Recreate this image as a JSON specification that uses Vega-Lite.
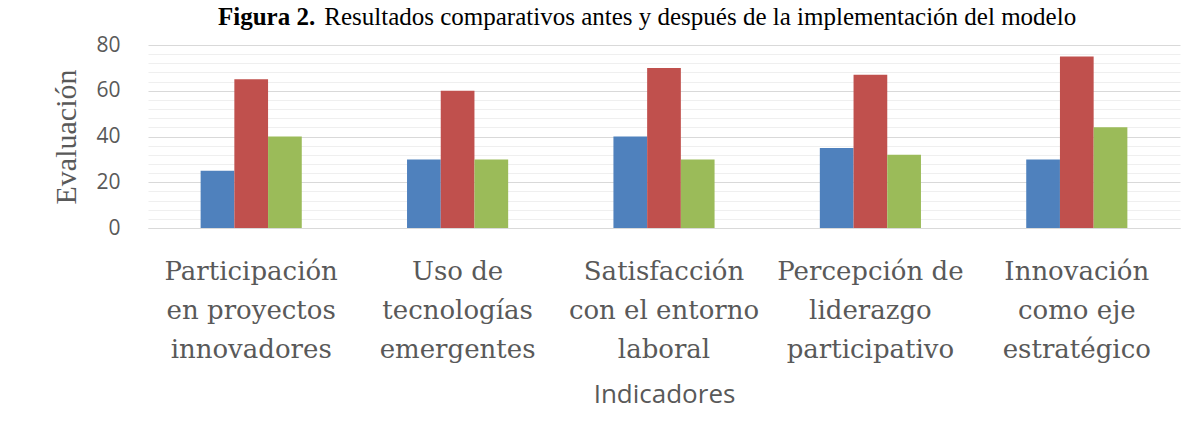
{
  "$schema": "https://vega.github.io/schema/vega-lite/v6.json",
  "autosize": {"type": "none"},
  "width": 1032,
  "height": 183,
  "padding": {"left": 148, "top": 45, "right": 21, "bottom": 209},
  "background": "white",
  "title": {
    "text": "Figura 2.",
    "subtitle": "\u200b\u00a0\u00a0\u00a0\u00a0\u00a0\u00a0\u00a0\u00a0\u00a0\u00a0\u00a0\u00a0\u00a0\u00a0\u00a0\u00a0\u00a0Resultados comparativos antes y después de la implementación del modelo",
    "font": "Liberation Serif",
    "fontSize": 25,
    "fontWeight": "bold",
    "color": "#000000",
    "subtitleFont": "Liberation Serif",
    "subtitleFontSize": 25,
    "subtitleFontWeight": "normal",
    "subtitleColor": "#000000",
    "subtitlePadding": -25,
    "anchor": "start",
    "frame": "group",
    "dx": 70,
    "offset": 4
  },
  "config": {"view": {"stroke": null}},
  "data": {
    "values": [
      {"indicador": "Participación en proyectos innovadores", "serie": "Serie 1", "valor": 25},
      {"indicador": "Participación en proyectos innovadores", "serie": "Serie 2", "valor": 65},
      {"indicador": "Participación en proyectos innovadores", "serie": "Serie 3", "valor": 40},
      {"indicador": "Uso de tecnologías emergentes", "serie": "Serie 1", "valor": 30},
      {"indicador": "Uso de tecnologías emergentes", "serie": "Serie 2", "valor": 60},
      {"indicador": "Uso de tecnologías emergentes", "serie": "Serie 3", "valor": 30},
      {"indicador": "Satisfacción con el entorno laboral", "serie": "Serie 1", "valor": 40},
      {"indicador": "Satisfacción con el entorno laboral", "serie": "Serie 2", "valor": 70},
      {"indicador": "Satisfacción con el entorno laboral", "serie": "Serie 3", "valor": 30},
      {"indicador": "Percepción de liderazgo participativo", "serie": "Serie 1", "valor": 35},
      {"indicador": "Percepción de liderazgo participativo", "serie": "Serie 2", "valor": 67},
      {"indicador": "Percepción de liderazgo participativo", "serie": "Serie 3", "valor": 32},
      {"indicador": "Innovación como eje estratégico", "serie": "Serie 1", "valor": 30},
      {"indicador": "Innovación como eje estratégico", "serie": "Serie 2", "valor": 75},
      {"indicador": "Innovación como eje estratégico", "serie": "Serie 3", "valor": 44}
    ]
  },
  "mark": {"type": "bar"},
  "encoding": {
    "x": {
      "field": "indicador",
      "type": "nominal",
      "sort": null,
      "scale": {"paddingInner": 0.51, "paddingOuter": 0.255},
      "axis": {
        "title": "Indicadores",
        "titleFont": "Open Sans",
        "titleFontSize": 26,
        "titleFontWeight": "normal",
        "titleColor": "#595959",
        "titlePadding": 19,
        "labelAngle": 0,
        "labelFont": "DejaVu Serif",
        "labelFontSize": 26,
        "labelColor": "#595959",
        "labelLineHeight": 39,
        "labelPadding": 30,
        "labelLimit": 0,
        "labelExpr": "datum.value == 'Participación en proyectos innovadores' ? ['Participación', 'en proyectos', 'innovadores'] : datum.value == 'Uso de tecnologías emergentes' ? ['Uso de', 'tecnologías', 'emergentes'] : datum.value == 'Satisfacción con el entorno laboral' ? ['Satisfacción', 'con el entorno', 'laboral'] : datum.value == 'Percepción de liderazgo participativo' ? ['Percepción de', 'liderazgo', 'participativo'] : ['Innovación', 'como eje', 'estratégico']",
        "ticks": false,
        "domain": true,
        "domainColor": "#d9d9d9",
        "grid": false
      }
    },
    "xOffset": {"field": "serie", "type": "nominal", "scale": {"paddingInner": 0, "paddingOuter": 0}},
    "y": {
      "field": "valor",
      "type": "quantitative",
      "scale": {"domain": [0, 80], "nice": false},
      "axis": {
        "title": "Evaluación",
        "titleFont": "Liberation Serif",
        "titleFontSize": 30,
        "titleFontWeight": "normal",
        "titleColor": "#595959",
        "titlePadding": 14,
        "values": [0, 4, 8, 12, 16, 20, 24, 28, 32, 36, 40, 44, 48, 52, 56, 60, 64, 68, 72, 76, 80],
        "labelExpr": "datum.value % 20 === 0 ? datum.label : ''",
        "labelFont": "Open Sans",
        "labelFontSize": 21,
        "labelColor": "#595959",
        "labelPadding": 28,
        "labelOverlap": false,
        "ticks": false,
        "domain": false,
        "grid": true,
        "gridColor": {"condition": {"test": "datum.value % 20 === 0", "value": "#d9d9d9"}, "value": "#efefef"},
        "gridWidth": 1
      }
    },
    "color": {
      "field": "serie",
      "type": "nominal",
      "scale": {"domain": ["Serie 1", "Serie 2", "Serie 3"], "range": ["#4F81BD", "#C0504D", "#9BBB59"]},
      "legend": null
    }
  }
}
